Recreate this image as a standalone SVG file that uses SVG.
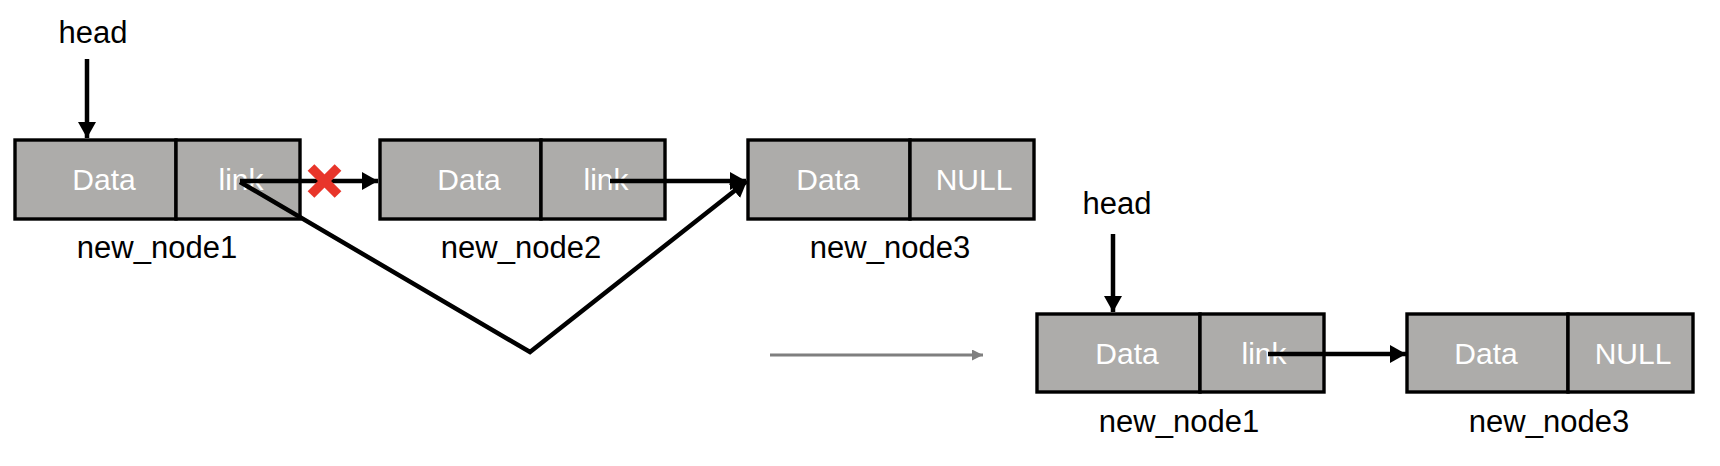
<svg xmlns="http://www.w3.org/2000/svg" width="1720" height="466" viewBox="0 0 1720 466">
<style>
.cell{fill:#ADACAA;stroke:#000;stroke-width:3.4}
.in{font-family:"Liberation Sans",Arial,sans-serif;font-size:30px;fill:#fff;text-anchor:middle}
.lbl{font-family:"Liberation Sans",Arial,sans-serif;font-size:31px;fill:#000;text-anchor:middle}
.ln{fill:none;stroke:#000;stroke-width:4.5}
.gray{fill:none;stroke:#7F7F7F;stroke-width:3}
.x{stroke:#E8352A;stroke-width:9.5;stroke-linecap:butt}
</style>
<defs>
<marker id="ah" markerUnits="userSpaceOnUse" markerWidth="17" markerHeight="19" refX="16" refY="9" orient="auto">
<path d="M0,0 L16,9 L0,18 z" fill="#000"/>
</marker>
<marker id="ahg" markerUnits="userSpaceOnUse" markerWidth="12" markerHeight="12" refX="11" refY="5.5" orient="auto">
<path d="M0,0 L11,5.5 L0,11 z" fill="#7F7F7F"/>
</marker>
</defs>
<rect width="1720" height="466" fill="#fff"/>

<g id="head1">
<text class="lbl" x="93" y="43">head</text>
</g>
<g id="node1">
<rect class="cell" x="15" y="140" width="161" height="79"/>
<rect class="cell" x="176" y="140" width="124" height="79"/>
<text class="in" x="104" y="190">Data</text>
<text class="in" x="241" y="190">link</text>
<text class="lbl" x="157" y="258">new_node1</text>
</g>
<g id="node2">
<rect class="cell" x="380" y="140" width="161" height="79"/>
<rect class="cell" x="541" y="140" width="124" height="79"/>
<text class="in" x="469" y="190">Data</text>
<text class="in" x="606" y="190">link</text>
<text class="lbl" x="521" y="258">new_node2</text>
</g>
<g id="node3">
<rect class="cell" x="748" y="140" width="162" height="79"/>
<rect class="cell" x="910" y="140" width="124" height="79"/>
<text class="in" x="828" y="190">Data</text>
<text class="in" x="974" y="190">NULL</text>
<text class="lbl" x="890" y="258">new_node3</text>
</g>

<g id="head2">
<text class="lbl" x="1117" y="214">head</text>
</g>
<g id="node1b">
<rect class="cell" x="1037" y="314" width="163" height="78"/>
<rect class="cell" x="1200" y="314" width="124" height="78"/>
<text class="in" x="1127" y="364">Data</text>
<text class="in" x="1264" y="364">link</text>
<text class="lbl" x="1179" y="432">new_node1</text>
</g>
<g id="node3b">
<rect class="cell" x="1407" y="314" width="161" height="78"/>
<rect class="cell" x="1568" y="314" width="125" height="78"/>
<text class="in" x="1486" y="364">Data</text>
<text class="in" x="1633" y="364">NULL</text>
<text class="lbl" x="1549" y="432">new_node3</text>
</g>

<g id="connectors">
<line class="ln" x1="87" y1="59" x2="87" y2="138" marker-end="url(#ah)"/>
<line class="ln" x1="240" y1="181" x2="378" y2="181" marker-end="url(#ah)"/>
<line class="ln" x1="610" y1="181" x2="746" y2="181" marker-end="url(#ah)"/>
<polyline class="ln" points="240,182 530,352 747,181" marker-end="url(#ah)"/>
<line class="gray" x1="770" y1="355" x2="983" y2="355" marker-end="url(#ahg)"/>
<line class="ln" x1="1113" y1="234" x2="1113" y2="312" marker-end="url(#ah)"/>
<line class="ln" x1="1268" y1="354" x2="1406" y2="354" marker-end="url(#ah)"/>
<g id="cross">
<line class="x" x1="311" y1="167.5" x2="338" y2="194.5"/>
<line class="x" x1="338" y1="167.5" x2="311" y2="194.5"/>
</g>
</g>
</svg>
